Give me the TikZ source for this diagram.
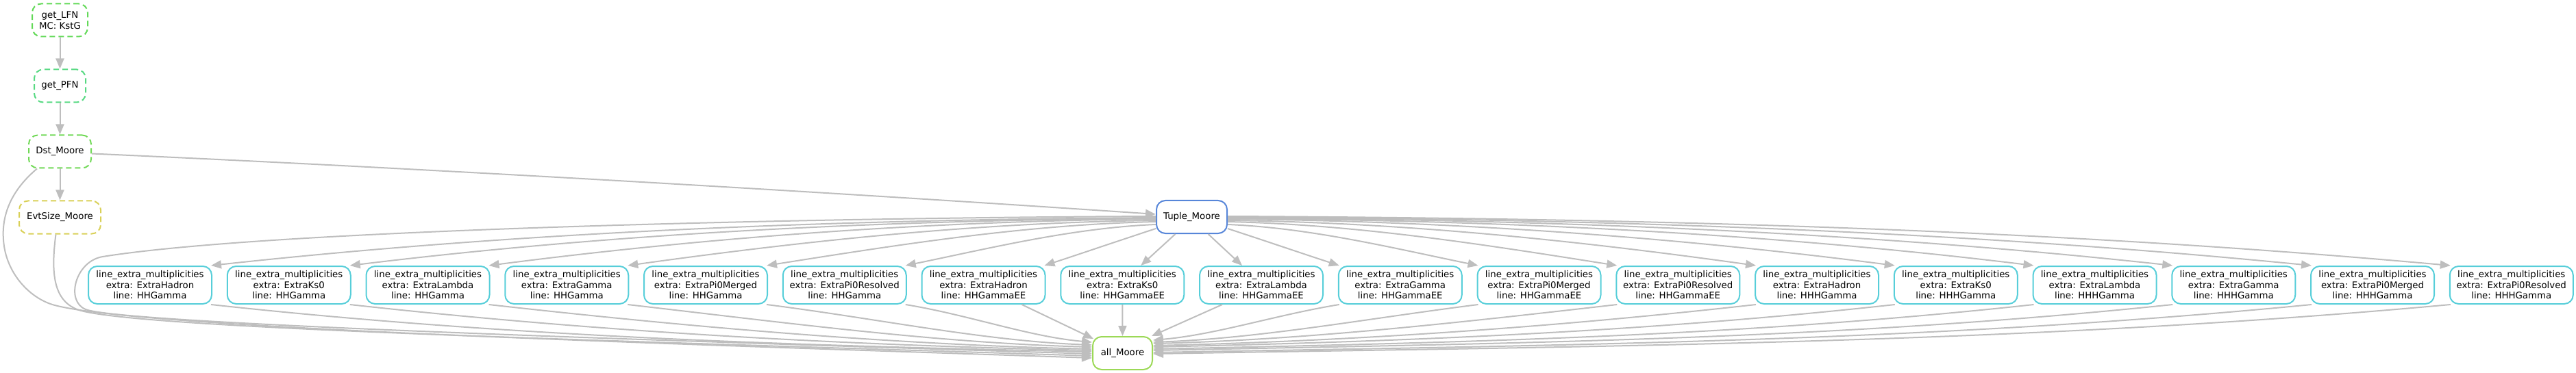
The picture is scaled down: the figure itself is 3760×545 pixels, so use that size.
\documentclass[tikz,border=0pt]{standalone}
\usepackage{fontspec}
\setmainfont{DejaVu Sans}
\usetikzlibrary{arrows.meta,calc}
\definecolor{edgegray}{RGB}{190,190,190}
\definecolor{cLFN}{RGB}{98,217,87}
\definecolor{cPFN}{RGB}{87,217,130}
\definecolor{cDst}{RGB}{113,217,87}
\definecolor{cEvt}{RGB}{217,208,87}
\definecolor{cTuple}{RGB}{87,134,217}
\definecolor{cLine}{RGB}{87,206,217}
\definecolor{cAll}{RGB}{156,217,87}
\begin{document}
\begin{tikzpicture}[x=1pt,y=-1pt,
  nd/.style={draw, rounded corners=13pt, line width=2pt, inner sep=0pt, align=center,
    font=\fontsize{13.33pt}{15.5pt}\selectfont, minimum height=48pt},
  dashbox/.style={nd, dash pattern=on 8pt off 5pt},
  linebox/.style={nd, draw=cLine, minimum width=180pt, minimum height=55pt},
  conn/.style={draw=edgegray, line width=2pt, -{Triangle[length=15pt,width=12pt]}}]
\useasboundingbox (0,0) rectangle (3760,545);

% left column
\node[dashbox, draw=cLFN, minimum width=81pt] (L) at (87.5,29.5) {get\_LFN\\MC: KstG};
\node[dashbox, draw=cPFN, minimum width=75pt] (P) at (87.5,125.5) {get\_PFN};
\node[dashbox, draw=cDst, minimum width=91pt] (D) at (87.5,221.5) {Dst\_Moore};
\node[dashbox, draw=cEvt, minimum width=119pt] (E) at (87.5,317.5) {EvtSize\_Moore};

\node[nd, draw=cTuple, minimum width=103pt] (T) at (1739.5,317) {Tuple\_Moore};
\node[nd, draw=cAll, minimum width=87pt] (A) at (1638.5,516) {all\_Moore};

\foreach \i/\ex/\ln in {0/ExtraHadron/HHGamma, 1/ExtraKs0/HHGamma, 2/ExtraLambda/HHGamma,
  3/ExtraGamma/HHGamma, 4/ExtraPi0Merged/HHGamma, 5/ExtraPi0Resolved/HHGamma,
  6/ExtraHadron/HHGammaEE, 7/ExtraKs0/HHGammaEE, 8/ExtraLambda/HHGammaEE,
  9/ExtraGamma/HHGammaEE, 10/ExtraPi0Merged/HHGammaEE, 11/ExtraPi0Resolved/HHGammaEE,
  12/ExtraHadron/HHHGamma, 13/ExtraKs0/HHHGamma, 14/ExtraLambda/HHHGamma,
  15/ExtraGamma/HHHGamma, 16/ExtraPi0Merged/HHHGamma, 17/ExtraPi0Resolved/HHHGamma}
  \node[linebox] (b\i) at ({219+202.75*\i},416.5) {line\_extra\_multiplicities\\extra: \ex\\line: \ln};

% chain
\draw[conn] (L.south) -- (P.north);
\draw[conn] (P.south) -- (D.north);
\draw[conn] (D.south) -- (E.north);
\draw[conn] ($(D.east)+(0,3)$) .. controls (600,245) and (1200,280) .. ($(T.west)+(0,-4)$);

% wrap-around edges into all_Moore
\draw[conn] ($(D.south west)+(13,0)$) .. controls (20,275) and (2,310) .. (5,350)
  .. controls (8,400) and (45,437) .. (80,446)
  .. controls (200,478) and (900,500) .. ($(A.west)+(0,7)$);
\draw[conn] ($(E.south)+(-6,0)$) .. controls (74,400) and (78,440) .. (115,453)
  .. controls (200,480) and (900,498) .. ($(A.west)+(0,4)$);
\draw[conn] ($(T.west)+(0,-1)$) .. controls (1200,318) and (400,335) .. (150,375)
  .. controls (110,381.4) and (95,440) .. (125,452)
  .. controls (175,472) and (900,496) .. ($(A.west)+(0,1)$);

% Tuple -> line boxes (left)
\foreach \i/\s/\ax/\ay/\bx/\by in {0/1/-460/3/458/-50, 1/2/-393/3/393/-48, 2/3/-325/3/325/-42,
  3/5/-258/3/258/-36, 4/7/-190/4/190/-30, 5/11/-122/5/122/-25, 6/17/-55/18/55/-18}
  \draw[conn] ($(T.west)+(0,\s)$) .. controls +(\ax,\ay) and +(\bx,\by) .. ($(b\i.north east)+(-2,0)$);
\draw[conn] ($(T.south)+(-24,0)$) -- ($(b7.north)+(27,0)$);
\draw[conn] ($(T.south)+(24,0)$) -- ($(b8.north)+(-28,0)$);
% Tuple -> line boxes (right)
\foreach \i/\s/\ax/\ay/\bx/\by in {9/17/55/18/-55/-18, 10/11/122/5/-122/-25, 11/7/190/4/-190/-30,
  12/5/258/3/-258/-36, 13/3/325/3/-325/-42, 14/2/393/3/-393/-48, 15/1/460/3/-460/-50,
  16/0/528/3/-528/-52, 17/-1/596/3/-596/-54}
  \draw[conn] ($(T.east)+(0,\s)$) .. controls +(\ax,\ay) and +(\bx,\by) .. ($(b\i.north west)+(2,0)$);

% line boxes -> all_Moore (left)
\foreach \i/\s/\ax/\ay/\bx/\by in {0/-2/430/47/-430/-9, 1/-4/362/40/-362/-8, 2/-6/295/33/-295/-7,
  3/-9/227/26/-227/-6, 4/-12/159/20/-159/-6, 5/-16/92/15/-92/-8}
  \draw[conn] ($(b\i.south east)+(-2,0)$) .. controls +(\ax,\ay) and +(\bx,\by) .. ($(A.west)+(0,\s)$);
\draw[conn] ($(b6.south east)+(-35,0)$) -- ($(A.north west)+(2,4)$);
\draw[conn] (b7.south) -- (A.north);
\draw[conn] ($(b8.south west)+(34,0)$) -- ($(A.north east)+(-2,0)$);
% line boxes -> all_Moore (right)
\foreach \i/\s/\ax/\ay/\bx/\by in {9/-19/-92/15/92/-8, 10/-16/-159/20/159/-6, 11/-14/-227/26/227/-6,
  12/-11/-294/33/294/-7, 13/-9/-362/40/362/-8, 14/-6/-430/47/430/-9, 15/-4/-497/52/497/-10,
  16/-1/-565/55/565/-10, 17/1/-632/58/632/-11}
  \draw[conn] ($(b\i.south west)+(2,0)$) .. controls +(\ax,\ay) and +(\bx,\by) .. ($(A.east)+(0,\s)$);
\end{tikzpicture}
\end{document}
